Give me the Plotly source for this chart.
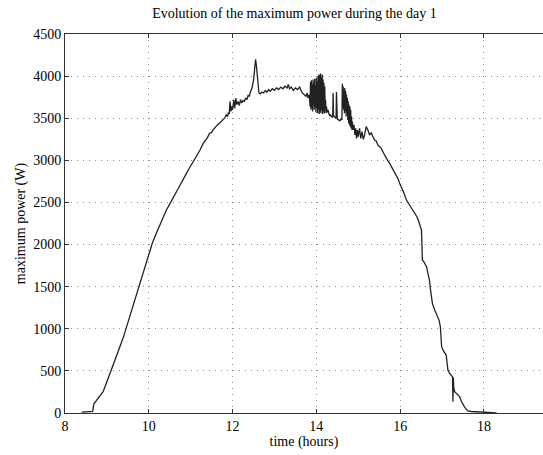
import plotly.graph_objects as go

# time (hours) and maximum power (W)
hours = [
    8.40, 8.45, 8.55, 8.66, 8.69, 8.75, 8.85, 8.91, 9.00, 9.11, 9.20, 9.31, 9.40, 9.47, 9.55,
    9.62, 9.72, 9.82, 9.90, 10.00, 10.08, 10.18, 10.30, 10.42, 10.50, 10.58, 10.66, 10.72, 10.78,
    10.84, 10.90, 10.96, 11.02, 11.08, 11.14, 11.22, 11.30, 11.35, 11.40, 11.45, 11.50, 11.53,
    11.57, 11.60, 11.64, 11.68, 11.72, 11.77, 11.81, 11.85, 11.88, 11.90, 11.92, 11.94, 11.96,
    11.98, 12.00, 12.03, 12.05, 12.08, 12.10, 12.13, 12.16, 12.19, 12.22, 12.25, 12.28, 12.31,
    12.34, 12.37, 12.40, 12.43, 12.46, 12.50, 12.53, 12.55, 12.57, 12.60, 12.63, 12.66, 12.70,
    12.74, 12.78, 12.82, 12.86, 12.90, 12.95, 13.00, 13.05, 13.10, 13.15, 13.20, 13.25, 13.30,
    13.33, 13.36, 13.40, 13.45, 13.50, 13.55, 13.60, 13.65, 13.70, 13.75, 13.78, 13.80, 13.83,
    13.85, 13.86, 13.87, 13.88, 13.89, 13.90, 13.91, 13.92, 13.93, 13.94, 13.95, 13.96, 13.97,
    13.98, 13.99, 14.00, 14.01, 14.02, 14.03, 14.04, 14.05, 14.06, 14.07, 14.08, 14.09, 14.10,
    14.11, 14.12, 14.13, 14.14, 14.15, 14.16, 14.17, 14.18, 14.19, 14.20, 14.21, 14.22, 14.23,
    14.24, 14.26, 14.28, 14.30, 14.32, 14.34, 14.36, 14.39, 14.40, 14.41, 14.44, 14.47, 14.48,
    14.49, 14.50, 14.53, 14.56, 14.59, 14.61, 14.62, 14.63, 14.64, 14.65, 14.66, 14.67, 14.68,
    14.69, 14.70, 14.71, 14.72, 14.73, 14.74, 14.75, 14.76, 14.77, 14.78, 14.79, 14.80, 14.81,
    14.82, 14.83, 14.84, 14.85, 14.86, 14.87, 14.88, 14.90, 14.92, 14.94, 14.96, 14.98, 15.00,
    15.03, 15.06, 15.09, 15.12, 15.15, 15.19, 15.23, 15.27, 15.31, 15.35, 15.39, 15.43, 15.47,
    15.51, 15.55, 15.60, 15.65, 15.70, 15.75, 15.80, 15.85, 15.90, 15.95, 15.99, 16.05, 16.10,
    16.15, 16.20, 16.25, 16.30, 16.35, 16.40, 16.44, 16.47, 16.51, 16.52, 16.53, 16.56, 16.60,
    16.63, 16.67, 16.70, 16.72, 16.74, 16.77, 16.82, 16.86, 16.90, 16.93, 16.96, 16.97, 16.99,
    17.03, 17.07, 17.10, 17.12, 17.14, 17.18, 17.22, 17.25, 17.26, 17.27, 17.28, 17.30, 17.34,
    17.38, 17.42, 17.46, 17.50, 17.54, 17.58, 17.62, 17.70, 17.80, 17.90, 17.98, 18.10, 18.20,
    18.30, 18.37,
]
power = [
    10, 12, 15, 20, 110, 150, 220, 253, 370, 510, 640, 787, 910, 1024, 1140,
    1262, 1430, 1599, 1740, 1896, 2010, 2133, 2280, 2410, 2480, 2545, 2627, 2680, 2740,
    2790, 2845, 2900, 2950, 3010, 3062, 3120, 3201, 3230, 3270, 3320, 3330, 3359,
    3390, 3400, 3420, 3440, 3450, 3478, 3500, 3540, 3520, 3570, 3550, 3700, 3580,
    3640, 3600, 3720, 3620, 3740, 3660, 3700, 3650, 3720, 3680, 3710, 3700, 3740,
    3720, 3770, 3760, 3820, 3850, 3950, 4150, 4200, 4120, 3900, 3800, 3790, 3810,
    3800, 3830, 3810, 3840, 3820, 3850, 3830, 3860, 3840, 3870, 3850, 3880, 3860,
    3900, 3850, 3870, 3830, 3860, 3840, 3870, 3810, 3790, 3760, 3800, 3740, 3780,
    3640, 3930, 3600, 3950, 3620, 3900, 3580, 3960, 3650, 3920, 3600, 3970, 3630,
    3890, 3570, 3980, 3620, 3940, 3560, 4000, 3600, 4020, 3550, 4010, 3580, 4030,
    3560, 3990, 3600, 4020, 3550, 3960, 3580, 3920, 3560, 3880, 3600, 3720, 3560,
    3640, 3570, 3600, 3550, 3530, 3540, 3520, 3510, 3800, 3530, 3510, 3500, 3810,
    3520, 3490, 3480, 3470, 3490, 3480, 3910, 3620, 3880, 3600, 3840, 3560, 3860,
    3580, 3820, 3520, 3780, 3560, 3740, 3480, 3700, 3440, 3660, 3420, 3640, 3400,
    3600, 3380, 3520, 3360, 3460, 3400, 3360, 3420, 3300, 3380, 3260, 3360, 3280,
    3380, 3260, 3340, 3250, 3300, 3400, 3360, 3300, 3330, 3280, 3240, 3230, 3180,
    3161, 3142, 3090, 3040, 3000, 2964, 2920, 2880, 2830, 2780, 2726, 2660, 2600,
    2528, 2490, 2450, 2420, 2370, 2330, 2280, 2231, 2172, 2000, 1816, 1800, 1760,
    1737, 1640, 1579, 1480, 1400, 1302, 1230, 1180, 1143, 1100, 1024, 900, 787,
    740, 700, 688, 600, 510, 470, 440, 431, 134, 420, 300, 253,
    230, 210, 194, 140, 95, 70, 44, 25, 18, 15, 12, 6, 3,
    1, 0,
]

x_ticks = [8, 10, 12, 14, 16, 18]
y_ticks = [0, 500, 1000, 1500, 2000, 2500, 3000, 3500, 4000, 4500]

fig = go.Figure()
fig.add_trace(go.Scatter(
    x=hours, y=power, mode="lines",
    line=dict(color="#222222", width=1.3),
    showlegend=False,
))

serif = "Liberation Serif, Times New Roman, serif"
axis_common = dict(
    showline=True, linecolor="#333333", linewidth=1,
    ticks="inside", ticklen=4, tickcolor="#333333",
    showgrid=True, gridcolor="#8c8c8c", gridwidth=1, griddash="1px,5px",
    zeroline=False, automargin=False,
    tickfont=dict(family=serif, size=14, color="black"),
)

fig.update_layout(
    width=543, height=455,
    margin=dict(l=65, r=0, t=34, b=42, autoexpand=False),
    paper_bgcolor="white", plot_bgcolor="white",
    title=dict(
        text="Evolution of the maximum power during the day 1",
        font=dict(family=serif, size=14, color="black"),
        x=0.48, xref="paper", xanchor="center",
        y=1 - 13 / 455, yref="container", yanchor="middle",
    ),
    xaxis=dict(
        range=[8, 19.41], tickvals=x_ticks, mirror="ticks",
        title=dict(text="time (hours)", font=dict(family=serif, size=14, color="black"), standoff=2),
        **axis_common,
    ),
    yaxis=dict(
        range=[0, 4500], tickvals=y_ticks,
        title=dict(text="maximum power (W)", font=dict(family=serif, size=14, color="black"), standoff=4),
        **axis_common,
    ),
)

fig.write_html(
    "out.html",
    config={"displayModeBar": False},
    post_script="document.body.style.margin='0';document.body.style.overflow='hidden';",
)
